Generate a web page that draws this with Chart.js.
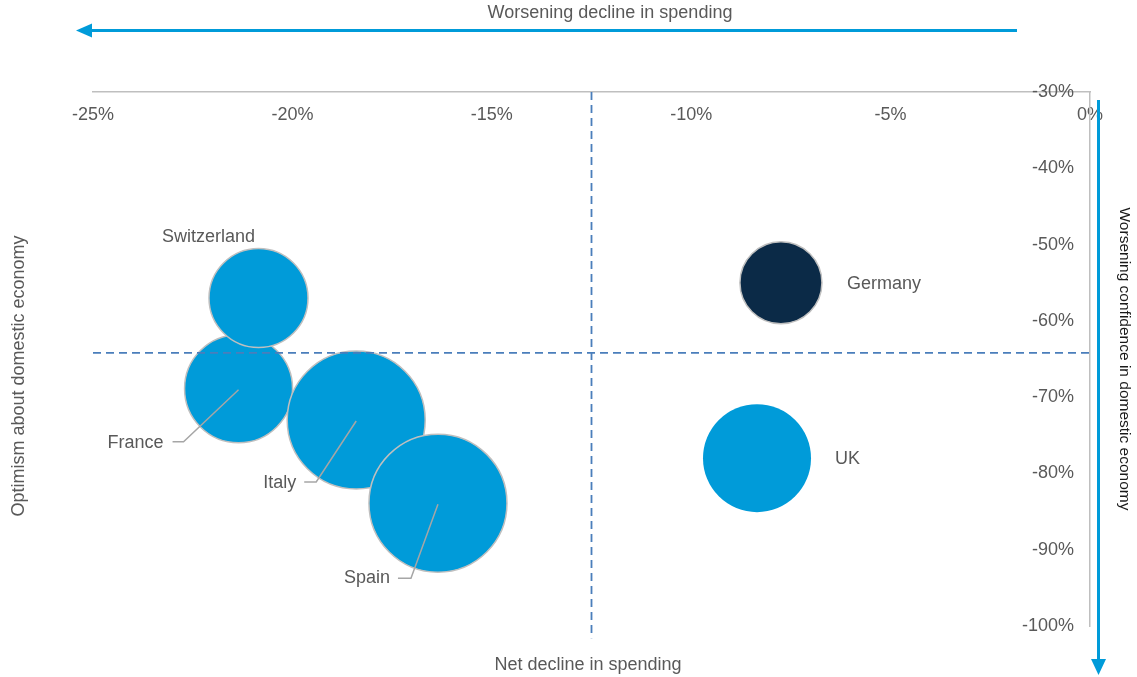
<!DOCTYPE html>
<html>
<head>
<meta charset="utf-8">
<script src="https://cdn.jsdelivr.net/npm/chart.js@4"></script>
<style>
  body { margin: 0; background: #fff; }
  #wrap { width: 1137px; height: 677px; position: relative; }
</style>
</head>
<body>
<div id="wrap"><canvas id="chart"></canvas></div>
<script>
// values (percent)
const countries = ['France', 'Switzerland', 'Italy', 'Spain', 'Germany', 'UK'];
const spending  = [-21.35, -20.85, -18.4, -16.35, -7.75, -8.35];   // net decline in spending
const optimism  = [-68.9, -57.0, -73.0, -83.9, -55.0, -78.0];      // optimism about domestic economy
const bubbleR   = [54, 49.5, 69, 69, 41, 54];
const avgSpending = -12.5;
const avgOptimism = -64.2;

const xTicks = { min: -25, max: 0, step: 5 };
const yTicks = { min: -100, max: -30, step: 10 };

const BLUE = '#009bd9';
const NAVY = '#0b2a47';
const GREY_TXT = '#595959';
const FONT = '"Liberation Sans", Arial, sans-serif';

const fills = countries.map(c => c === 'Germany' ? NAVY : BLUE);
const borders = countries.map(c => c === 'UK' ? 0 : 1.5);

// label placement relative to bubble centre
const labelPos = {
  Switzerland: { dx: -50, dy: -61, align: 'center' },
  France:      { dx: -75, dy: 54, align: 'right', leader: [[-66, 53], [-55, 53]] },
  Italy:       { dx: -60, dy: 63, align: 'right', leader: [[-52, 62], [-40, 62]] },
  Spain:       { dx: -48, dy: 75, align: 'right', leader: [[-40, 75], [-27, 75]] },
  Germany:     { dx: 66, dy: 1, align: 'left' },
  UK:          { dx: 78, dy: 1, align: 'left' }
};

const decor = {
  id: 'decor',
  afterDatasetsDraw(chart) {
    const ctx = chart.ctx;
    const meta = chart.getDatasetMeta(2);
    ctx.save();
    ctx.font = '18px ' + FONT;
    ctx.fillStyle = GREY_TXT;
    ctx.textBaseline = 'middle';
    meta.data.forEach((el, i) => {
      const p = labelPos[countries[i]];
      if (!p) return;
      if (p.leader) {
        ctx.strokeStyle = '#a6a6a6';
        ctx.lineWidth = 1.5;
        ctx.beginPath();
        ctx.moveTo(el.x + p.leader[0][0], el.y + p.leader[0][1]);
        ctx.lineTo(el.x + p.leader[1][0], el.y + p.leader[1][1]);
        ctx.lineTo(el.x, el.y + 1);
        ctx.stroke();
      }
      ctx.textAlign = p.align;
      ctx.fillText(countries[i], el.x + p.dx, el.y + p.dy);
    });
    ctx.restore();
  },
  afterDraw(chart) {
    const ctx = chart.ctx;
    ctx.save();
    ctx.strokeStyle = BLUE;
    ctx.fillStyle = BLUE;
    ctx.lineWidth = 3;
    // top arrow (pointing left)
    ctx.beginPath();
    ctx.moveTo(1017, 30.5); ctx.lineTo(90, 30.5); ctx.stroke();
    ctx.beginPath();
    ctx.moveTo(76, 30.5); ctx.lineTo(92, 23.5); ctx.lineTo(92, 37.5); ctx.closePath(); ctx.fill();
    // right arrow (pointing down)
    ctx.beginPath();
    ctx.moveTo(1098.5, 100); ctx.lineTo(1098.5, 662); ctx.stroke();
    ctx.beginPath();
    ctx.moveTo(1098.5, 675); ctx.lineTo(1091, 659); ctx.lineTo(1106, 659); ctx.closePath(); ctx.fill();

    ctx.font = '18px ' + FONT;
    ctx.fillStyle = GREY_TXT;
    ctx.textAlign = 'center';
    ctx.textBaseline = 'middle';
    ctx.fillText('Worsening decline in spending', 610, 13);
    ctx.fillText('Net decline in spending', 588, 665);
    ctx.save();
    ctx.translate(19, 376);
    ctx.rotate(-Math.PI / 2);
    ctx.fillText('Optimism about domestic economy', 0, 0);
    ctx.restore();
    ctx.save();
    ctx.translate(1124, 359);
    ctx.rotate(Math.PI / 2);
    ctx.font = '15.5px ' + FONT;
    ctx.fillStyle = '#1a1a1a';
    ctx.fillText('Worsening confidence in domestic economy', 0, 0);
    ctx.restore();
    ctx.restore();
  }
};

new Chart(document.getElementById('chart'), {
  type: 'bubble',
  data: {
    datasets: [
      {
        type: 'line',
        data: [{ x: avgSpending, y: yTicks.max }, { x: avgSpending, y: yTicks.min - 1.6 }],
        borderColor: '#4a7ebb',
        borderWidth: 1.8,
        borderDash: [8, 5],
        pointRadius: 0,
        clip: false,
        order: 0
      },
      {
        type: 'line',
        data: [{ x: xTicks.min, y: avgOptimism }, { x: xTicks.max, y: avgOptimism }],
        borderColor: '#4a7ebb',
        borderWidth: 1.8,
        borderDash: [8, 5],
        pointRadius: 0,
        clip: false,
        order: 1
      },
      {
        data: countries.map((c, i) => ({ x: spending[i], y: optimism[i], r: bubbleR[i] })),
        backgroundColor: fills,
        borderColor: '#bfbfbf',
        borderWidth: borders,
        clip: false,
        order: 2
      }
    ]
  },
  options: {
    responsive: true,
    maintainAspectRatio: false,
    animation: false,
    events: [],
    layout: { autoPadding: false, padding: { left: 93, top: 92, right: 47, bottom: 51 } },
    plugins: { legend: { display: false }, tooltip: { enabled: false } },
    scales: {
      x: {
        type: 'linear',
        position: 'top',
        min: xTicks.min, max: xTicks.max,
        grid: { display: false, drawTicks: false },
        border: { display: true, color: '#bfbfbf', width: 1.5 },
        ticks: {
          stepSize: xTicks.step, mirror: true, padding: 12,
          color: GREY_TXT, font: { family: FONT, size: 18 },
          maxRotation: 0,
          callback: v => v + '%'
        },
        afterFit: s => { s.height = 0; s.paddingLeft = 0; s.paddingRight = 0; }
      },
      y: {
        type: 'linear',
        position: 'right',
        min: yTicks.min, max: yTicks.max,
        grid: { display: false, drawTicks: false },
        border: { display: true, color: '#bfbfbf', width: 1.5 },
        ticks: {
          stepSize: yTicks.step, mirror: true, padding: -16,
          color: GREY_TXT, font: { family: FONT, size: 18 },
          callback: v => v + '%'
        },
        afterFit: s => { s.width = 0; s.paddingTop = 0; s.paddingBottom = 0; }
      }
    }
  },
  plugins: [decor]
});
</script>
</body>
</html>
